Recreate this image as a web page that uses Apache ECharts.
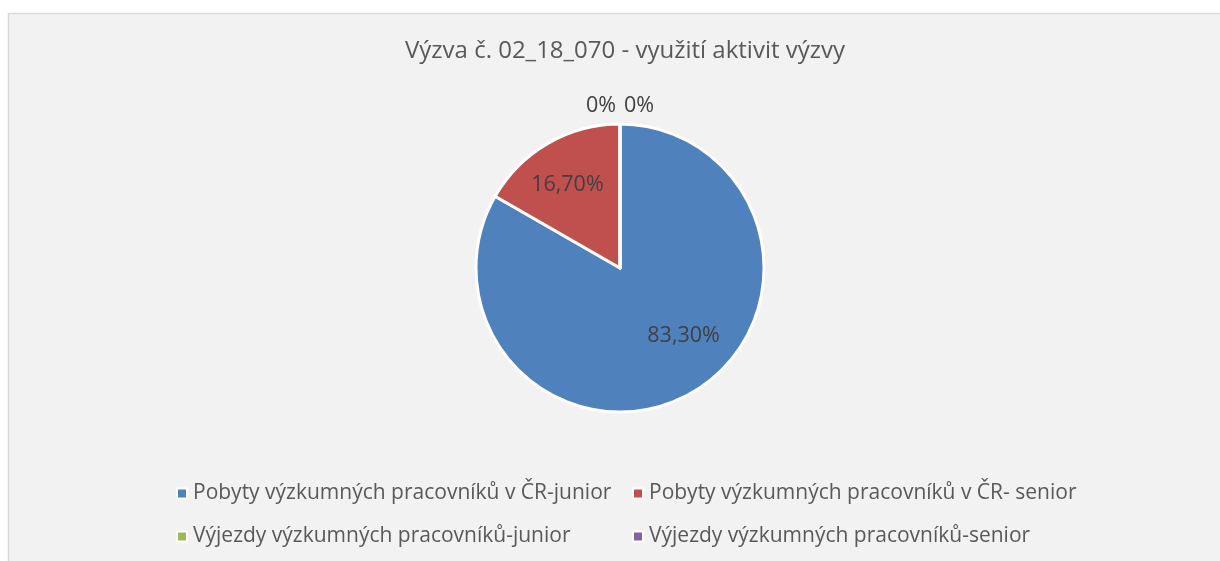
<!DOCTYPE html>
<html>
<head>
<meta charset="utf-8">
<script src="https://cdn.jsdelivr.net/npm/echarts@6/dist/echarts.min.js"></script>
<style>
  html, body { margin: 0; padding: 0; background: #ffffff; }
  #chart { width: 1220px; height: 561px; }
</style>
</head>
<body>
<div id="chart"></div>
<script>
// data
const categories = [
  'Pobyty výzkumných pracovníků v ČR-junior',
  'Pobyty výzkumných pracovníků v ČR- senior',
  'Výjezdy výzkumných pracovníků-junior',
  'Výjezdy výzkumných pracovníků-senior'
];
const shares = [83.3, 16.7, 0, 0];
const labelTexts = ['83,30%', '16,70%', '0%', '0%'];
const colors = ['#4f81bd', '#c0504d', '#9bbb59', '#8064a2'];

const FONT = 'Open Sans';
const TEXT = '#595959';

// where Excel put the data labels (offset from the slice's inner label spot)
const labelOffsets = [[26, 3], [-15, -18], [-19, -87], [19, -87]];

const chart = echarts.init(document.getElementById('chart'));

const legendStyle = {
  orient: 'vertical',
  top: 478,
  itemGap: 22,
  itemWidth: 10,
  itemHeight: 10,
  icon: 'rect',
  textStyle: { fontFamily: FONT, fontSize: 21, lineHeight: 21, color: TEXT, padding: [0, 0, 0, 1] }
};

chart.setOption({
  backgroundColor: '#ffffff',
  color: colors,
  graphic: [{
    type: 'rect',
    z: -10,
    shape: { x: 8.5, y: 13.5, width: 1240, height: 600 },
    style: { fill: '#f2f2f2', stroke: '#d9d9d9', lineWidth: 1.5 }
  }],
  title: {
    text: 'Výzva č. 02_18_070 - využití aktivit výzvy',
    left: 620,
    textAlign: 'center',
    top: 34,
    textStyle: { fontFamily: FONT, fontSize: 24, fontWeight: 'normal', color: TEXT }
  },
  legend: [
    Object.assign({ left: 171, data: [categories[0], categories[2]] }, legendStyle),
    Object.assign({ left: 627, data: [categories[1], categories[3]] }, legendStyle)
  ],
  series: [{
    type: 'pie',
    center: [620, 268],
    radius: 144,
    startAngle: 90,
    clockwise: true,
    avoidLabelOverlap: false,
    itemStyle: { borderColor: '#ffffff', borderWidth: 3 },
    labelLine: { show: false },
    emphasis: { disabled: true },
    data: categories.map((name, i) => ({
      name: name,
      value: shares[i],
      label: {
        show: true,
        position: 'inside',
        formatter: labelTexts[i],
        offset: labelOffsets[i],
        fontFamily: FONT,
        fontSize: 21.5,
        color: '#404040'
      }
    }))
  }]
});
</script>
</body>
</html>
